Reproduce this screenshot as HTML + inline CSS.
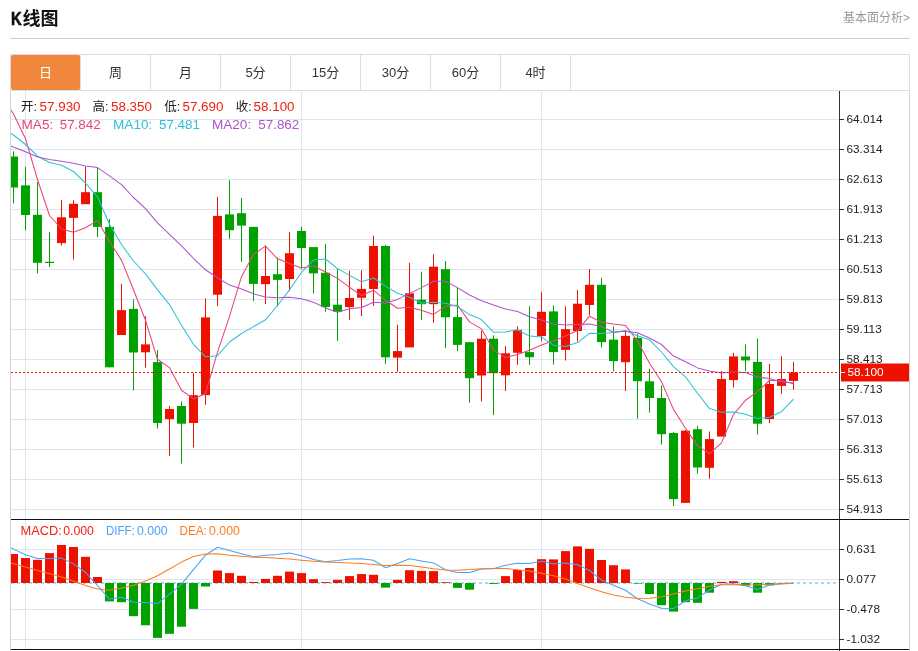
<!DOCTYPE html>
<html lang="zh-CN"><head><meta charset="utf-8"><title>K线图</title>
<style>
html,body{margin:0;padding:0;background:#fff;}
body{width:918px;height:651px;position:relative;overflow:hidden;font-family:"Liberation Sans","Noto Sans CJK SC",sans-serif;}
.title{position:absolute;left:11px;top:6.6px;font-size:18px;font-weight:bold;color:#111;line-height:24px;white-space:nowrap;}
.title span{display:inline-block;-webkit-text-stroke:0.6px #111;transform:scaleX(0.82);transform-origin:0 50%;margin-right:-1.5px;}
.more{position:absolute;right:8px;top:8.7px;font-size:12px;color:#999;line-height:18px;}
.hr{position:absolute;left:10px;top:38px;width:900px;height:1px;background:#cfcfcf;}
.tabs{position:absolute;left:10px;top:54px;width:898px;height:35px;border:1px solid #ddd;background:#fff;}
.tab{position:absolute;top:0;width:69px;height:35px;border-right:1px solid #ddd;text-align:center;line-height:36px;font-size:13px;color:#333;}
.tab.on{background:#f0873c;color:#fff;border-radius:2px;}
</style></head><body>
<div class="title"><span>K</span>线图</div>
<div class="more">基本面分析&gt;</div>
<div class="hr"></div>
<svg width="918" height="651" viewBox="0 0 918 651" style="position:absolute;left:0;top:0">
<defs><clipPath id="cp"><rect x="11" y="91" width="828" height="558"/></clipPath></defs>
<g stroke="#dbe6ee" stroke-width="1" shape-rendering="crispEdges"><line x1="11" y1="119.5" x2="839" y2="119.5"/><line x1="11" y1="149.5" x2="839" y2="149.5"/><line x1="11" y1="179.5" x2="839" y2="179.5"/><line x1="11" y1="209.5" x2="839" y2="209.5"/><line x1="11" y1="239.5" x2="839" y2="239.5"/><line x1="11" y1="269.5" x2="839" y2="269.5"/><line x1="11" y1="299.5" x2="839" y2="299.5"/><line x1="11" y1="329.5" x2="839" y2="329.5"/><line x1="11" y1="359.5" x2="839" y2="359.5"/><line x1="11" y1="389.5" x2="839" y2="389.5"/><line x1="11" y1="419.5" x2="839" y2="419.5"/><line x1="11" y1="449.5" x2="839" y2="449.5"/><line x1="11" y1="479.5" x2="839" y2="479.5"/><line x1="11" y1="509.5" x2="839" y2="509.5"/><line x1="11" y1="549.5" x2="839" y2="549.5"/><line x1="11" y1="579.5" x2="839" y2="579.5"/><line x1="11" y1="609.5" x2="839" y2="609.5"/><line x1="11" y1="639.5" x2="839" y2="639.5"/><line x1="25.5" y1="91" x2="25.5" y2="649"/><line x1="301.5" y1="91" x2="301.5" y2="649"/><line x1="541.5" y1="91" x2="541.5" y2="649"/></g>
<line x1="11" y1="583" x2="839" y2="583" stroke="#a6daf2" stroke-width="2" stroke-dasharray="3,3" shape-rendering="crispEdges"/>
<g clip-path="url(#cp)"><g fill="#00a200" stroke="#00a200"><line x1="13.5" y1="151.3" x2="13.5" y2="203.4" stroke-width="1"/><rect x="9.0" y="156.5" width="9" height="31.0" stroke="none"/></g><g fill="#00a200" stroke="#00a200"><line x1="25.5" y1="166.8" x2="25.5" y2="230.4" stroke-width="1"/><rect x="21.0" y="185.4" width="9" height="29.6" stroke="none"/></g><g fill="#00a200" stroke="#00a200"><line x1="37.5" y1="182.0" x2="37.5" y2="273.3" stroke-width="1"/><rect x="33.0" y="214.8" width="9" height="48.0" stroke="none"/></g><g fill="#00a200" stroke="#00a200"><line x1="49.5" y1="232.0" x2="49.5" y2="267.0" stroke-width="1"/><rect x="45.0" y="261.8" width="9" height="1.2" stroke="none"/></g><g fill="#ee1100" stroke="#ee1100"><line x1="61.5" y1="200.0" x2="61.5" y2="245.6" stroke-width="1"/><rect x="57.0" y="217.3" width="9" height="25.8" stroke="none"/></g><g fill="#ee1100" stroke="#ee1100"><line x1="73.5" y1="200.3" x2="73.5" y2="259.6" stroke-width="1"/><rect x="69.0" y="203.8" width="9" height="14.1" stroke="none"/></g><g fill="#ee1100" stroke="#ee1100"><line x1="85.5" y1="166.5" x2="85.5" y2="203.8" stroke-width="1"/><rect x="81.0" y="192.2" width="9" height="12.0" stroke="none"/></g><g fill="#00a200" stroke="#00a200"><line x1="97.5" y1="167.6" x2="97.5" y2="236.9" stroke-width="1"/><rect x="93.0" y="192.2" width="9" height="34.7" stroke="none"/></g><g fill="#00a200" stroke="#00a200"><line x1="109.5" y1="219.0" x2="109.5" y2="367.3" stroke-width="1"/><rect x="105.0" y="227.0" width="9" height="140.3" stroke="none"/></g><g fill="#ee1100" stroke="#ee1100"><line x1="121.5" y1="283.8" x2="121.5" y2="334.6" stroke-width="1"/><rect x="117.0" y="310.1" width="9" height="24.9" stroke="none"/></g><g fill="#00a200" stroke="#00a200"><line x1="133.5" y1="299.3" x2="133.5" y2="390.4" stroke-width="1"/><rect x="129.0" y="308.9" width="9" height="43.6" stroke="none"/></g><g fill="#ee1100" stroke="#ee1100"><line x1="145.5" y1="316.2" x2="145.5" y2="367.7" stroke-width="1"/><rect x="141.0" y="344.4" width="9" height="7.9" stroke="none"/></g><g fill="#00a200" stroke="#00a200"><line x1="157.5" y1="350.0" x2="157.5" y2="428.6" stroke-width="1"/><rect x="153.0" y="362.1" width="9" height="60.9" stroke="none"/></g><g fill="#ee1100" stroke="#ee1100"><line x1="169.5" y1="406.0" x2="169.5" y2="456.0" stroke-width="1"/><rect x="165.0" y="409.0" width="9" height="10.1" stroke="none"/></g><g fill="#00a200" stroke="#00a200"><line x1="181.5" y1="401.4" x2="181.5" y2="463.6" stroke-width="1"/><rect x="177.0" y="406.0" width="9" height="17.7" stroke="none"/></g><g fill="#ee1100" stroke="#ee1100"><line x1="193.5" y1="373.0" x2="193.5" y2="447.5" stroke-width="1"/><rect x="189.0" y="395.2" width="9" height="27.8" stroke="none"/></g><g fill="#ee1100" stroke="#ee1100"><line x1="205.5" y1="298.4" x2="205.5" y2="404.9" stroke-width="1"/><rect x="201.0" y="317.4" width="9" height="77.7" stroke="none"/></g><g fill="#ee1100" stroke="#ee1100"><line x1="217.5" y1="196.9" x2="217.5" y2="306.0" stroke-width="1"/><rect x="213.0" y="215.9" width="9" height="78.8" stroke="none"/></g><g fill="#00a200" stroke="#00a200"><line x1="229.5" y1="180.2" x2="229.5" y2="238.9" stroke-width="1"/><rect x="225.0" y="214.4" width="9" height="15.8" stroke="none"/></g><g fill="#00a200" stroke="#00a200"><line x1="241.5" y1="198.0" x2="241.5" y2="261.9" stroke-width="1"/><rect x="237.0" y="213.2" width="9" height="12.4" stroke="none"/></g><g fill="#00a200" stroke="#00a200"><line x1="253.5" y1="226.9" x2="253.5" y2="301.0" stroke-width="1"/><rect x="249.0" y="226.9" width="9" height="57.0" stroke="none"/></g><g fill="#ee1100" stroke="#ee1100"><line x1="265.5" y1="245.3" x2="265.5" y2="304.0" stroke-width="1"/><rect x="261.0" y="276.0" width="9" height="8.2" stroke="none"/></g><g fill="#00a200" stroke="#00a200"><line x1="277.5" y1="257.6" x2="277.5" y2="306.3" stroke-width="1"/><rect x="273.0" y="274.2" width="9" height="5.7" stroke="none"/></g><g fill="#ee1100" stroke="#ee1100"><line x1="289.5" y1="231.9" x2="289.5" y2="291.1" stroke-width="1"/><rect x="285.0" y="253.2" width="9" height="25.8" stroke="none"/></g><g fill="#00a200" stroke="#00a200"><line x1="301.5" y1="226.9" x2="301.5" y2="269.2" stroke-width="1"/><rect x="297.0" y="231.0" width="9" height="17.0" stroke="none"/></g><g fill="#00a200" stroke="#00a200"><line x1="313.5" y1="247.1" x2="313.5" y2="293.5" stroke-width="1"/><rect x="309.0" y="247.1" width="9" height="26.3" stroke="none"/></g><g fill="#00a200" stroke="#00a200"><line x1="325.5" y1="244.0" x2="325.5" y2="311.7" stroke-width="1"/><rect x="321.0" y="272.8" width="9" height="34.3" stroke="none"/></g><g fill="#00a200" stroke="#00a200"><line x1="337.5" y1="268.8" x2="337.5" y2="340.9" stroke-width="1"/><rect x="333.0" y="304.7" width="9" height="7.1" stroke="none"/></g><g fill="#ee1100" stroke="#ee1100"><line x1="349.5" y1="270.8" x2="349.5" y2="319.9" stroke-width="1"/><rect x="345.0" y="298.0" width="9" height="9.1" stroke="none"/></g><g fill="#ee1100" stroke="#ee1100"><line x1="361.5" y1="270.2" x2="361.5" y2="316.1" stroke-width="1"/><rect x="357.0" y="288.9" width="9" height="8.9" stroke="none"/></g><g fill="#ee1100" stroke="#ee1100"><line x1="373.5" y1="235.8" x2="373.5" y2="305.9" stroke-width="1"/><rect x="369.0" y="246.0" width="9" height="43.0" stroke="none"/></g><g fill="#00a200" stroke="#00a200"><line x1="385.5" y1="245.0" x2="385.5" y2="363.9" stroke-width="1"/><rect x="381.0" y="246.0" width="9" height="111.3" stroke="none"/></g><g fill="#ee1100" stroke="#ee1100"><line x1="397.5" y1="324.8" x2="397.5" y2="371.8" stroke-width="1"/><rect x="393.0" y="351.1" width="9" height="6.5" stroke="none"/></g><g fill="#ee1100" stroke="#ee1100"><line x1="409.5" y1="262.9" x2="409.5" y2="347.0" stroke-width="1"/><rect x="405.0" y="293.3" width="9" height="54.1" stroke="none"/></g><g fill="#00a200" stroke="#00a200"><line x1="421.5" y1="271.7" x2="421.5" y2="320.2" stroke-width="1"/><rect x="417.0" y="299.7" width="9" height="4.5" stroke="none"/></g><g fill="#ee1100" stroke="#ee1100"><line x1="433.5" y1="254.2" x2="433.5" y2="322.8" stroke-width="1"/><rect x="429.0" y="266.7" width="9" height="37.5" stroke="none"/></g><g fill="#00a200" stroke="#00a200"><line x1="445.5" y1="261.0" x2="445.5" y2="348.1" stroke-width="1"/><rect x="441.0" y="269.2" width="9" height="48.1" stroke="none"/></g><g fill="#00a200" stroke="#00a200"><line x1="457.5" y1="287.3" x2="457.5" y2="351.2" stroke-width="1"/><rect x="453.0" y="317.1" width="9" height="27.8" stroke="none"/></g><g fill="#00a200" stroke="#00a200"><line x1="469.5" y1="342.2" x2="469.5" y2="402.9" stroke-width="1"/><rect x="465.0" y="342.2" width="9" height="36.0" stroke="none"/></g><g fill="#ee1100" stroke="#ee1100"><line x1="481.5" y1="330.8" x2="481.5" y2="401.4" stroke-width="1"/><rect x="477.0" y="338.7" width="9" height="36.8" stroke="none"/></g><g fill="#00a200" stroke="#00a200"><line x1="493.5" y1="335.4" x2="493.5" y2="415.1" stroke-width="1"/><rect x="489.0" y="338.7" width="9" height="34.5" stroke="none"/></g><g fill="#ee1100" stroke="#ee1100"><line x1="505.5" y1="346.0" x2="505.5" y2="390.9" stroke-width="1"/><rect x="501.0" y="353.3" width="9" height="22.0" stroke="none"/></g><g fill="#ee1100" stroke="#ee1100"><line x1="517.5" y1="326.4" x2="517.5" y2="364.9" stroke-width="1"/><rect x="513.0" y="329.9" width="9" height="22.9" stroke="none"/></g><g fill="#00a200" stroke="#00a200"><line x1="529.5" y1="306.3" x2="529.5" y2="364.9" stroke-width="1"/><rect x="525.0" y="352.1" width="9" height="5.1" stroke="none"/></g><g fill="#ee1100" stroke="#ee1100"><line x1="541.5" y1="292.2" x2="541.5" y2="341.3" stroke-width="1"/><rect x="537.0" y="311.8" width="9" height="24.3" stroke="none"/></g><g fill="#00a200" stroke="#00a200"><line x1="553.5" y1="305.4" x2="553.5" y2="364.6" stroke-width="1"/><rect x="549.0" y="311.4" width="9" height="40.7" stroke="none"/></g><g fill="#ee1100" stroke="#ee1100"><line x1="565.5" y1="306.4" x2="565.5" y2="360.5" stroke-width="1"/><rect x="561.0" y="329.2" width="9" height="20.7" stroke="none"/></g><g fill="#ee1100" stroke="#ee1100"><line x1="577.5" y1="290.0" x2="577.5" y2="341.4" stroke-width="1"/><rect x="573.0" y="303.7" width="9" height="27.3" stroke="none"/></g><g fill="#ee1100" stroke="#ee1100"><line x1="589.5" y1="269.0" x2="589.5" y2="315.4" stroke-width="1"/><rect x="585.0" y="284.8" width="9" height="20.2" stroke="none"/></g><g fill="#00a200" stroke="#00a200"><line x1="601.5" y1="277.8" x2="601.5" y2="347.5" stroke-width="1"/><rect x="597.0" y="284.8" width="9" height="57.3" stroke="none"/></g><g fill="#00a200" stroke="#00a200"><line x1="613.5" y1="326.5" x2="613.5" y2="371.2" stroke-width="1"/><rect x="609.0" y="339.6" width="9" height="21.5" stroke="none"/></g><g fill="#ee1100" stroke="#ee1100"><line x1="625.5" y1="331.5" x2="625.5" y2="391.0" stroke-width="1"/><rect x="621.0" y="335.9" width="9" height="26.3" stroke="none"/></g><g fill="#00a200" stroke="#00a200"><line x1="637.5" y1="333.8" x2="637.5" y2="418.7" stroke-width="1"/><rect x="633.0" y="337.9" width="9" height="43.3" stroke="none"/></g><g fill="#00a200" stroke="#00a200"><line x1="649.5" y1="368.8" x2="649.5" y2="412.6" stroke-width="1"/><rect x="645.0" y="381.3" width="9" height="16.7" stroke="none"/></g><g fill="#00a200" stroke="#00a200"><line x1="661.5" y1="385.4" x2="661.5" y2="444.7" stroke-width="1"/><rect x="657.0" y="398.0" width="9" height="36.2" stroke="none"/></g><g fill="#00a200" stroke="#00a200"><line x1="673.5" y1="432.0" x2="673.5" y2="506.0" stroke-width="1"/><rect x="669.0" y="433.0" width="9" height="66.1" stroke="none"/></g><g fill="#ee1100" stroke="#ee1100"><line x1="685.5" y1="430.0" x2="685.5" y2="502.5" stroke-width="1"/><rect x="681.0" y="430.7" width="9" height="72.2" stroke="none"/></g><g fill="#00a200" stroke="#00a200"><line x1="697.5" y1="425.7" x2="697.5" y2="473.6" stroke-width="1"/><rect x="693.0" y="429.2" width="9" height="38.3" stroke="none"/></g><g fill="#ee1100" stroke="#ee1100"><line x1="709.5" y1="431.5" x2="709.5" y2="478.8" stroke-width="1"/><rect x="705.0" y="439.1" width="9" height="28.7" stroke="none"/></g><g fill="#ee1100" stroke="#ee1100"><line x1="721.5" y1="370.8" x2="721.5" y2="436.2" stroke-width="1"/><rect x="717.0" y="379.0" width="9" height="57.6" stroke="none"/></g><g fill="#ee1100" stroke="#ee1100"><line x1="733.5" y1="352.7" x2="733.5" y2="387.5" stroke-width="1"/><rect x="729.0" y="356.4" width="9" height="23.7" stroke="none"/></g><g fill="#00a200" stroke="#00a200"><line x1="745.5" y1="344.4" x2="745.5" y2="371.0" stroke-width="1"/><rect x="741.0" y="356.5" width="9" height="3.9" stroke="none"/></g><g fill="#00a200" stroke="#00a200"><line x1="757.5" y1="338.8" x2="757.5" y2="434.5" stroke-width="1"/><rect x="753.0" y="361.9" width="9" height="61.8" stroke="none"/></g><g fill="#ee1100" stroke="#ee1100"><line x1="769.5" y1="363.9" x2="769.5" y2="423.2" stroke-width="1"/><rect x="765.0" y="384.0" width="9" height="35.0" stroke="none"/></g><g fill="#ee1100" stroke="#ee1100"><line x1="781.5" y1="356.3" x2="781.5" y2="393.8" stroke-width="1"/><rect x="777.0" y="379.0" width="9" height="6.9" stroke="none"/></g><g fill="#ee1100" stroke="#ee1100"><line x1="793.5" y1="361.9" x2="793.5" y2="389.7" stroke-width="1"/><rect x="789.0" y="372.4" width="9" height="8.5" stroke="none"/></g>
<polyline points="1.5,97.0 13.5,113.9 25.5,138.7 37.5,179.5 49.5,215.5 61.5,229.0 73.5,232.2 85.5,227.7 97.5,220.6 109.5,241.5 121.5,260.1 133.5,289.7 145.5,320.2 157.5,359.3 169.5,367.6 181.5,390.3 193.5,398.9 205.5,393.5 217.5,352.2 229.5,316.3 241.5,276.7 253.5,254.4 265.5,246.1 277.5,258.8 289.5,263.5 301.5,268.0 313.5,265.9 325.5,272.0 337.5,278.4 349.5,287.3 361.5,295.6 373.5,290.2 385.5,300.2 397.5,308.2 409.5,307.2 421.5,310.2 433.5,314.4 445.5,306.4 457.5,305.0 469.5,321.9 481.5,328.9 493.5,350.1 505.5,357.4 517.5,354.5 529.5,350.3 541.5,344.9 553.5,340.7 565.5,335.9 577.5,330.6 589.5,316.2 601.5,322.2 613.5,324.0 625.5,325.4 637.5,340.8 649.5,363.3 661.5,381.8 673.5,409.4 685.5,428.3 697.5,445.6 709.5,453.9 721.5,442.9 733.5,414.5 745.5,400.3 757.5,391.6 769.5,380.5 781.5,380.5 793.5,383.7" fill="none" stroke="#e8457c" stroke-width="1.05" stroke-linejoin="round"/>
<polyline points="1.5,126.9 13.5,135.0 25.5,144.5 37.5,156.2 49.5,162.5 61.5,165.2 73.5,171.5 85.5,183.2 97.5,197.0 109.5,224.3 121.5,244.5 133.5,261.0 145.5,273.9 157.5,289.9 169.5,304.6 181.5,325.2 193.5,344.3 205.5,356.8 217.5,355.7 229.5,342.0 241.5,333.5 253.5,326.6 265.5,319.8 277.5,305.5 289.5,289.9 301.5,272.3 313.5,260.1 325.5,259.0 337.5,268.6 349.5,275.4 361.5,281.8 373.5,278.0 385.5,286.1 397.5,293.3 409.5,297.3 421.5,302.9 433.5,302.3 445.5,303.3 457.5,306.6 469.5,314.6 481.5,319.6 493.5,332.2 505.5,331.9 517.5,329.8 529.5,336.1 541.5,336.9 553.5,345.4 565.5,346.6 577.5,342.6 589.5,333.3 601.5,333.6 613.5,332.4 625.5,330.6 637.5,335.7 649.5,339.8 661.5,352.0 673.5,366.7 685.5,376.8 697.5,393.2 709.5,408.6 721.5,412.3 733.5,411.9 745.5,414.3 757.5,418.6 769.5,417.2 781.5,411.7 793.5,399.1" fill="none" stroke="#2fc0d8" stroke-width="1.05" stroke-linejoin="round"/>
<polyline points="1.5,141.7 13.5,147.1 25.5,151.8 37.5,156.9 49.5,159.5 61.5,161.3 73.5,163.2 85.5,166.1 97.5,167.6 109.5,175.9 121.5,184.6 133.5,197.5 145.5,208.6 157.5,222.8 169.5,234.4 181.5,245.8 193.5,258.3 205.5,269.8 217.5,277.7 229.5,285.1 241.5,289.0 253.5,293.8 265.5,296.9 277.5,297.7 289.5,297.2 301.5,298.8 313.5,302.2 325.5,307.9 337.5,312.2 349.5,308.7 361.5,307.6 373.5,302.3 385.5,303.0 397.5,299.4 409.5,293.6 421.5,287.6 433.5,281.2 445.5,281.2 457.5,287.6 469.5,295.0 481.5,300.7 493.5,305.1 505.5,309.0 517.5,311.5 529.5,316.7 541.5,319.9 553.5,323.9 565.5,325.0 577.5,324.6 589.5,323.9 601.5,326.6 613.5,332.3 625.5,331.3 637.5,332.7 649.5,338.0 661.5,344.5 673.5,356.1 685.5,361.7 697.5,367.9 709.5,370.9 721.5,373.0 733.5,372.1 745.5,372.5 757.5,377.1 769.5,378.5 781.5,381.9 793.5,382.9" fill="none" stroke="#b253cc" stroke-width="1.05" stroke-linejoin="round"/>
<line x1="11" y1="372.5" x2="839" y2="372.5" stroke="#ee1100" stroke-width="1" stroke-dasharray="2,2" shape-rendering="crispEdges"/>
<rect x="9.0" y="554.0" width="9" height="29.0" fill="#ee1100"/><rect x="21.0" y="558.0" width="9" height="25.0" fill="#ee1100"/><rect x="33.0" y="559.8" width="9" height="23.2" fill="#ee1100"/><rect x="45.0" y="553.1" width="9" height="29.9" fill="#ee1100"/><rect x="57.0" y="545.0" width="9" height="38.0" fill="#ee1100"/><rect x="69.0" y="547.0" width="9" height="36.0" fill="#ee1100"/><rect x="81.0" y="556.8" width="9" height="26.2" fill="#ee1100"/><rect x="93.0" y="577.0" width="9" height="6.0" fill="#ee1100"/><rect x="105.0" y="583" width="9" height="18.4" fill="#00a200"/><rect x="117.0" y="583" width="9" height="19.2" fill="#00a200"/><rect x="129.0" y="583" width="9" height="33.2" fill="#00a200"/><rect x="141.0" y="583" width="9" height="42.3" fill="#00a200"/><rect x="153.0" y="583" width="9" height="54.9" fill="#00a200"/><rect x="165.0" y="583" width="9" height="50.8" fill="#00a200"/><rect x="177.0" y="583" width="9" height="43.7" fill="#00a200"/><rect x="189.0" y="583" width="9" height="25.9" fill="#00a200"/><rect x="201.0" y="583" width="9" height="3.5" fill="#00a200"/><rect x="213.0" y="570.5" width="9" height="12.5" fill="#ee1100"/><rect x="225.0" y="573.1" width="9" height="9.9" fill="#ee1100"/><rect x="237.0" y="575.8" width="9" height="7.2" fill="#ee1100"/><rect x="249.0" y="581.9" width="9" height="1.1" fill="#ee1100"/><rect x="261.0" y="578.9" width="9" height="4.1" fill="#ee1100"/><rect x="273.0" y="575.8" width="9" height="7.2" fill="#ee1100"/><rect x="285.0" y="571.6" width="9" height="11.4" fill="#ee1100"/><rect x="297.0" y="573.1" width="9" height="9.9" fill="#ee1100"/><rect x="309.0" y="579.2" width="9" height="3.8" fill="#ee1100"/><rect x="321.0" y="582.1" width="9" height="0.9" fill="#ee1100"/><rect x="333.0" y="579.9" width="9" height="3.1" fill="#ee1100"/><rect x="345.0" y="576.1" width="9" height="6.9" fill="#ee1100"/><rect x="357.0" y="574.1" width="9" height="8.9" fill="#ee1100"/><rect x="369.0" y="574.8" width="9" height="8.2" fill="#ee1100"/><rect x="381.0" y="583" width="9" height="4.6" fill="#00a200"/><rect x="393.0" y="579.9" width="9" height="3.1" fill="#ee1100"/><rect x="405.0" y="570.2" width="9" height="12.8" fill="#ee1100"/><rect x="417.0" y="570.9" width="9" height="12.1" fill="#ee1100"/><rect x="429.0" y="571.1" width="9" height="11.9" fill="#ee1100"/><rect x="441.0" y="582.2" width="9" height="0.8" fill="#ee1100"/><rect x="453.0" y="583" width="9" height="4.9" fill="#00a200"/><rect x="465.0" y="583" width="9" height="6.7" fill="#00a200"/><rect x="489.0" y="583" width="9" height="0.9" fill="#00a200"/><rect x="501.0" y="576.1" width="9" height="6.9" fill="#ee1100"/><rect x="513.0" y="570.0" width="9" height="13.0" fill="#ee1100"/><rect x="525.0" y="568.0" width="9" height="15.0" fill="#ee1100"/><rect x="537.0" y="559.2" width="9" height="23.8" fill="#ee1100"/><rect x="549.0" y="559.4" width="9" height="23.6" fill="#ee1100"/><rect x="561.0" y="551.1" width="9" height="31.9" fill="#ee1100"/><rect x="573.0" y="546.4" width="9" height="36.6" fill="#ee1100"/><rect x="585.0" y="548.8" width="9" height="34.2" fill="#ee1100"/><rect x="597.0" y="560.0" width="9" height="23.0" fill="#ee1100"/><rect x="609.0" y="565.2" width="9" height="17.8" fill="#ee1100"/><rect x="621.0" y="569.4" width="9" height="13.6" fill="#ee1100"/><rect x="633.0" y="583" width="9" height="0.6" fill="#00a200"/><rect x="645.0" y="583" width="9" height="11.0" fill="#00a200"/><rect x="657.0" y="583" width="9" height="22.2" fill="#00a200"/><rect x="669.0" y="583" width="9" height="28.6" fill="#00a200"/><rect x="681.0" y="583" width="9" height="19.2" fill="#00a200"/><rect x="693.0" y="583" width="9" height="19.8" fill="#00a200"/><rect x="705.0" y="583" width="9" height="9.7" fill="#00a200"/><rect x="717.0" y="581.9" width="9" height="1.1" fill="#ee1100"/><rect x="729.0" y="581.2" width="9" height="1.8" fill="#ee1100"/><rect x="741.0" y="583" width="9" height="2.7" fill="#00a200"/><rect x="753.0" y="583" width="9" height="9.7" fill="#00a200"/><rect x="765.0" y="583" width="9" height="2.4" fill="#00a200"/><rect x="777.0" y="583" width="9" height="0.8" fill="#00a200"/>
<polyline points="1.5,541.5 13.5,549.1 25.5,554.8 37.5,558.6 49.5,558.4 61.5,558.1 73.5,563.9 85.5,572.5 97.5,585.7 109.5,599.1 121.5,597.3 133.5,602.2 145.5,602.6 157.5,603.6 169.5,594.1 181.5,584.2 193.5,569.7 205.5,555.2 217.5,547.2 229.5,550.4 241.5,553.7 253.5,556.8 265.5,555.2 277.5,554.4 289.5,553.1 301.5,555.7 313.5,559.5 325.5,561.8 337.5,560.6 349.5,558.9 361.5,558.8 373.5,560.3 385.5,567.7 397.5,563.6 409.5,558.7 421.5,560.9 433.5,562.9 445.5,569.7 457.5,572.5 469.5,572.6 481.5,569.0 493.5,568.7 505.5,565.2 517.5,563.2 529.5,563.6 541.5,561.3 553.5,564.1 565.5,562.9 577.5,564.7 589.5,570.5 601.5,580.1 613.5,585.3 625.5,590.3 637.5,598.7 649.5,604.0 661.5,608.3 673.5,608.6 685.5,600.7 697.5,597.9 709.5,590.0 721.5,584.2 733.5,583.7 745.5,585.7 757.5,589.5 769.5,585.1 781.5,583.9 793.5,583.3" fill="none" stroke="#4aa2fa" stroke-width="1.05" stroke-linejoin="round"/>
<polyline points="1.5,559.8 13.5,563.8 25.5,567.1 37.5,570.5 49.5,573.5 61.5,577.0 73.5,581.2 85.5,585.4 97.5,589.1 109.5,590.3 121.5,588.0 133.5,585.3 145.5,581.0 157.5,575.8 169.5,569.0 181.5,562.1 193.5,556.5 205.5,554.0 217.5,553.7 229.5,555.2 241.5,556.3 253.5,557.2 265.5,557.5 277.5,558.3 289.5,559.1 301.5,560.3 313.5,561.3 325.5,562.1 337.5,562.4 349.5,562.9 361.5,563.6 373.5,564.4 385.5,565.5 397.5,565.3 409.5,565.6 421.5,567.1 433.5,568.7 445.5,570.0 457.5,570.2 469.5,569.6 481.5,568.7 493.5,568.5 505.5,568.4 517.5,569.7 529.5,571.1 541.5,573.2 553.5,575.8 565.5,578.9 577.5,583.4 589.5,587.7 601.5,591.8 613.5,594.9 625.5,597.2 637.5,598.5 649.5,598.2 661.5,596.8 673.5,594.1 685.5,591.1 697.5,588.8 709.5,586.2 721.5,584.8 733.5,584.8 745.5,585.0 757.5,584.8 769.5,584.2 781.5,583.6 793.5,583.1" fill="none" stroke="#ff7b1c" stroke-width="1.05" stroke-linejoin="round"/>
</g>
<g shape-rendering="crispEdges" stroke-width="1">
<line x1="10.5" y1="54" x2="10.5" y2="651" stroke="#d4d4d4"/>
<line x1="909.5" y1="54" x2="909.5" y2="651" stroke="#d4d4d4"/>
<line x1="839.5" y1="91" x2="839.5" y2="651" stroke="#333"/>
<line x1="11" y1="519.5" x2="909" y2="519.5" stroke="#111"/>
<line x1="11" y1="649.5" x2="909" y2="649.5" stroke="#111"/>
<line x1="840" y1="119.5" x2="844" y2="119.5" stroke="#333"/>
<line x1="840" y1="149.5" x2="844" y2="149.5" stroke="#333"/>
<line x1="840" y1="179.5" x2="844" y2="179.5" stroke="#333"/>
<line x1="840" y1="209.5" x2="844" y2="209.5" stroke="#333"/>
<line x1="840" y1="239.5" x2="844" y2="239.5" stroke="#333"/>
<line x1="840" y1="269.5" x2="844" y2="269.5" stroke="#333"/>
<line x1="840" y1="299.5" x2="844" y2="299.5" stroke="#333"/>
<line x1="840" y1="329.5" x2="844" y2="329.5" stroke="#333"/>
<line x1="840" y1="359.5" x2="844" y2="359.5" stroke="#333"/>
<line x1="840" y1="389.5" x2="844" y2="389.5" stroke="#333"/>
<line x1="840" y1="419.5" x2="844" y2="419.5" stroke="#333"/>
<line x1="840" y1="449.5" x2="844" y2="449.5" stroke="#333"/>
<line x1="840" y1="479.5" x2="844" y2="479.5" stroke="#333"/>
<line x1="840" y1="509.5" x2="844" y2="509.5" stroke="#333"/>
<line x1="840" y1="549.5" x2="844" y2="549.5" stroke="#333"/>
<line x1="840" y1="579.5" x2="844" y2="579.5" stroke="#333"/>
<line x1="840" y1="609.5" x2="844" y2="609.5" stroke="#333"/>
<line x1="840" y1="639.5" x2="844" y2="639.5" stroke="#333"/>
</g>
<g font-family='"Liberation Sans",sans-serif' font-size="11.8" fill="#222">
<text x="846.5" y="123.1">64.014</text>
<text x="846.5" y="153.1">63.314</text>
<text x="846.5" y="183.1">62.613</text>
<text x="846.5" y="213.1">61.913</text>
<text x="846.5" y="243.1">61.213</text>
<text x="846.5" y="273.1">60.513</text>
<text x="846.5" y="303.1">59.813</text>
<text x="846.5" y="333.1">59.113</text>
<text x="846.5" y="363.1">58.413</text>
<text x="846.5" y="393.1">57.713</text>
<text x="846.5" y="423.1">57.013</text>
<text x="846.5" y="453.1">56.313</text>
<text x="846.5" y="483.1">55.613</text>
<text x="846.5" y="513.1">54.913</text>
<text x="846.5" y="553.1">0.631</text>
<text x="846.5" y="583.1">0.077</text>
<text x="846.5" y="613.1">-0.478</text>
<text x="846.5" y="643.1">-1.032</text>
</g>
<rect x="841" y="363.5" width="68" height="18" fill="#ee1100"/>
<line x1="841" y1="372.5" x2="845" y2="372.5" stroke="#fff" stroke-width="1" shape-rendering="crispEdges"/>
<text x="847.5" y="376.3" font-family='"Liberation Sans",sans-serif' font-size="11.8" fill="#fff">58.100</text>
<g font-family='"Liberation Sans","Noto Sans CJK SC",sans-serif'>
<text x="21" y="111" fill="#222" font-size="12.5" >开:</text>
<text x="39.6" y="111.3" fill="#f02010" font-size="13.4" >57.930</text>
<text x="92.6" y="111" fill="#222" font-size="12.5" >高:</text>
<text x="111.0" y="111.3" fill="#f02010" font-size="13.4" >58.350</text>
<text x="164.2" y="111" fill="#222" font-size="12.5" >低:</text>
<text x="182.5" y="111.3" fill="#f02010" font-size="13.4" >57.690</text>
<text x="235.7" y="111" fill="#222" font-size="12.5" >收:</text>
<text x="253.6" y="111.3" fill="#f02010" font-size="13.4" >58.100</text>
<text x="21.5" y="129.3" fill="#e8457c" font-size="13.6" >MA5:</text>
<text x="59.699999999999996" y="129.3" fill="#e8457c" font-size="13.4" >57.842</text>
<text x="113.0" y="129.3" fill="#2fc0d8" font-size="13.6" >MA10:</text>
<text x="159.0" y="129.3" fill="#2fc0d8" font-size="13.4" >57.481</text>
<text x="211.89999999999998" y="129.3" fill="#b253cc" font-size="13.6" >MA20:</text>
<text x="258.29999999999995" y="129.3" fill="#b253cc" font-size="13.4" >57.862</text>
<text x="20.599999999999998" y="534.8" fill="#f02010" font-size="12.3" textLength="41.2" lengthAdjust="spacingAndGlyphs">MACD:</text>
<text x="63.199999999999996" y="534.8" fill="#f02010" font-size="12.3" >0.000</text>
<text x="105.9" y="534.8" fill="#4aa2fa" font-size="12.3" textLength="28.8" lengthAdjust="spacingAndGlyphs">DIFF:</text>
<text x="136.9" y="534.8" fill="#4aa2fa" font-size="12.3" >0.000</text>
<text x="179.39999999999998" y="534.8" fill="#ff7b1c" font-size="12.3" textLength="27.5" lengthAdjust="spacingAndGlyphs">DEA:</text>
<text x="209.1" y="534.8" fill="#ff7b1c" font-size="12.3" >0.000</text>
</g>
</svg>
<div class="tabs"><div class="tab on" style="left:0px">日</div><div class="tab" style="left:70px">周</div><div class="tab" style="left:140px">月</div><div class="tab" style="left:210px">5分</div><div class="tab" style="left:280px">15分</div><div class="tab" style="left:350px">30分</div><div class="tab" style="left:420px">60分</div><div class="tab" style="left:490px">4时</div></div>
</body></html>
